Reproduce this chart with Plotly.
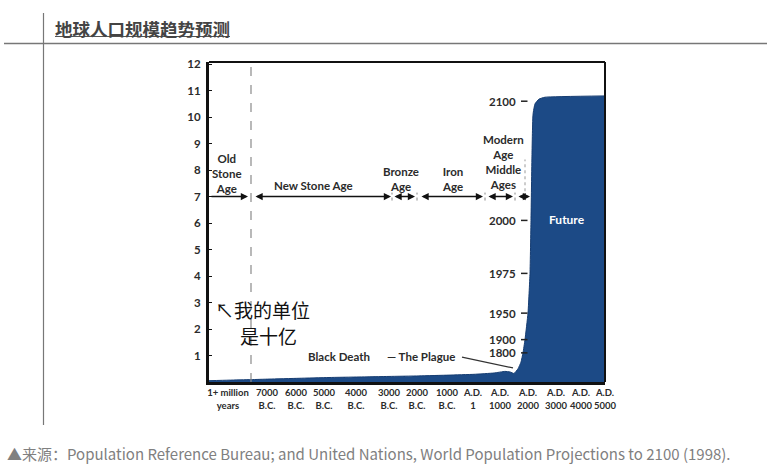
import plotly.graph_objects as go

# ---------------- data ----------------
# schematic timeline position (arbitrary units along the x axis) and world population (billions)
timeline_pos = [0, 20, 42, 60, 90, 120, 150, 180, 210, 240, 265, 285, 296, 301, 305, 309,
                312, 314, 316, 319, 321, 322, 323, 324, 326, 330, 336, 396]
population = [0.05, 0.07, 0.09, 0.11, 0.14, 0.17, 0.19, 0.21, 0.23, 0.26, 0.29, 0.34, 0.40, 0.38,
              0.32, 0.50, 0.75, 1.10, 1.60, 2.60, 4.10, 6.10, 8.60, 10.10, 10.50, 10.68, 10.75, 10.80]

tick_pos = [19, 58, 87, 115, 147, 180, 208, 238, 264, 291, 319, 347, 372, 396]
tick_text = ["1+ million<br>years", "7000<br>B.C.", "6000<br>B.C.", "5000<br>B.C.", "4000<br>B.C.",
             "3000<br>B.C.", "2000<br>B.C.", "1000<br>B.C.", "A.D.<br>1", "A.D.<br>1000",
             "A.D.<br>2000", "A.D.<br>3000", "A.D.<br>4000", "A.D.<br>5000"]
y_ticks = list(range(1, 13))

# milestone years on the curve: (label, population)
milestone_years = ["1800", "1900", "1950", "1975", "2000", "2100"]
milestone_pop = [1.1, 1.6, 2.6, 4.1, 6.1, 10.6]

# historical eras: label, start, end along timeline
era_labels = ["Old<br>Stone<br>Age", "New Stone Age", "Bronze<br>Age", "Iron<br>Age",
              "Modern<br>Age<br>Middle<br>Ages"]
era_start = [1, 45, 184, 211, 278]
era_end = [39, 182, 206, 274, 304]

title_text = "地球人口规模趋势预测"
source_text = "▲来源：Population Reference Bureau; and United Nations, World Population Projections to 2100 (1998)."

# ---------------- figure ----------------
NAVY = "#1c4a86"
TXT = "#2b2b2b"
FONT = "Lato"

fig = go.Figure()
fig.add_trace(go.Scatter(x=timeline_pos, y=population, mode="lines", fill="tozeroy",
                         line=dict(color="#163d72", width=1, shape="spline", smoothing=0.4),
                         fillcolor=NAVY, hoverinfo="skip", showlegend=False))

L, R, T, B = 209, 605, 62, 382
W, H = 772, 472


def px(xp):
    return (xp - L) / (R - L)


def py(yp):
    return (B - yp) / (B - T)


ann = []
shapes = []

# plot frame top / right
shapes.append(dict(type="line", xref="paper", yref="paper", x0=0, x1=1, y0=1, y1=1,
                   line=dict(color="#111", width=2)))
shapes.append(dict(type="line", xref="paper", yref="paper", x0=1, x1=1, y0=0, y1=1,
                   line=dict(color="#111", width=2)))
# dashed vertical separator
shapes.append(dict(type="line", xref="x", yref="paper", x0=42, x1=42, y0=0, y1=1,
                   line=dict(color="#8a8a8a", width=1.2, dash="dash")))
# small dotted separators between eras
for xs in [183, 208, 276, 306]:
    shapes.append(dict(type="line", xref="x", yref="y", x0=xs, x1=xs, y0=6.85, y1=7.15,
                       line=dict(color="#888", width=1, dash="dot")))
shapes.append(dict(type="line", xref="x", yref="y", x0=316, x1=316, y0=7.2, y1=8.4,
                   line=dict(color="#999", width=1, dash="dot")))

# era arrows
for i, (s, e) in enumerate(zip(era_start, era_end)):
    ann.append(dict(x=e, y=7, ax=s, ay=7, xref="x", yref="y", axref="x", ayref="y",
                    text="", showarrow=True, arrowhead=2, arrowsize=0.9, arrowwidth=1.6,
                    arrowcolor="#111", arrowside="end" if i == 0 else "end+start"))
# modern age arrow
ann.append(dict(x=321, y=7, ax=308, ay=7, xref="x", yref="y", axref="x", ayref="y",
                text="", showarrow=True, arrowhead=2, arrowsize=0.9, arrowwidth=1.6,
                arrowcolor="#111", arrowside="end+start"))

era_x = [18, 104, 192, 243, 294]
era_y = [7.86, 7.42, 7.67, 7.68, 8.3]
for lab, xx, yy in zip(era_labels, era_x, era_y):
    ann.append(dict(x=xx, y=yy, xref="x", yref="y", text="<b>%s</b>" % lab, showarrow=False,
                    font=dict(family=FONT, size=11.5, color=TXT), xanchor="center", yanchor="middle"))

# milestone years with dashes
for yr, pv in zip(milestone_years, milestone_pop):
    ann.append(dict(x=309, y=pv, xref="x", yref="y", text="<b>%s</b>" % yr, showarrow=False,
                    font=dict(family=FONT, size=11.5, color=TXT), xanchor="right", yanchor="middle"))
    shapes.append(dict(type="line", xref="x", yref="y", x0=312, x1=318.5, y0=pv, y1=pv,
                       line=dict(color="#222", width=1.5)))

ann.append(dict(x=358, y=6.15, xref="x", yref="y", text="<b>Future</b>", showarrow=False,
                font=dict(family=FONT, size=12, color="white")))
ann.append(dict(x=130, y=0.95, xref="x", yref="y", text="<b>Black Death</b>", showarrow=False,
                font=dict(family=FONT, size=11.5, color=TXT)))
ann.append(dict(x=176, y=0.95, xref="x", yref="y", text="<b>— The Plague</b>", showarrow=False,
                font=dict(family=FONT, size=11.5, color=TXT), xanchor="left"))
shapes.append(dict(type="line", xref="x", yref="y", x0=253, x1=304, y0=0.94, y1=0.53,
                   line=dict(color="#333", width=1.2)))

# handwritten note
ann.append(dict(x=px(213), y=py(325), xref="paper", yref="paper", text="↖我的单位", showarrow=False,
                font=dict(family="Noto Sans CJK SC", size=19, color="#111"), xanchor="left"))
ann.append(dict(x=px(238), y=py(351), xref="paper", yref="paper", text="是十亿", showarrow=False,
                font=dict(family="Noto Sans CJK SC", size=19, color="#111"), xanchor="left"))

# page header / footer
ann.append(dict(x=px(53), y=py(28), xref="paper", yref="paper", text="<b>%s</b>" % title_text,
                showarrow=False, xanchor="left", yanchor="middle",
                font=dict(family="Noto Sans CJK SC", size=17.5, color="#444")))
shapes.append(dict(type="line", xref="paper", yref="paper", x0=px(55), x1=px(230), y0=py(36.5), y1=py(36.5),
                   line=dict(color="#555", width=1)))
shapes.append(dict(type="line", xref="paper", yref="paper", x0=px(4), x1=px(767), y0=py(43.5), y1=py(43.5),
                   line=dict(color="#777", width=1.5)))
shapes.append(dict(type="line", xref="paper", yref="paper", x0=px(43.5), x1=px(43.5), y0=py(13), y1=py(425),
                   line=dict(color="#777", width=1.2)))
ann.append(dict(x=px(5), y=py(453), xref="paper", yref="paper", text=source_text, showarrow=False,
                xanchor="left", yanchor="middle",
                font=dict(family="Noto Sans CJK SC", size=15, color="#808080")))

fig.update_layout(
    width=W, height=H, margin=dict(l=L, r=W - R, t=T, b=H - B, autoexpand=False),
    paper_bgcolor="white", plot_bgcolor="white",
    annotations=ann, shapes=shapes, showlegend=False,
    xaxis=dict(range=[0, 396], tickvals=tick_pos, ticktext=tick_text, showgrid=False, zeroline=False,
               showline=True, linewidth=3, linecolor="#111", ticks="", tickangle=0, automargin=False,
               tickfont=dict(family=FONT, size=9.5, color=TXT, weight="bold")),
    yaxis=dict(range=[0, 12.08], tickvals=y_ticks, showgrid=False, zeroline=False, automargin=False,
               showline=True, linewidth=3, linecolor="#111", ticks="inside", ticklen=3,
               tickcolor="#111", ticklabelstandoff=3,
               tickfont=dict(family=FONT, size=11.5, color=TXT, weight="bold")),
)

fig.write_html("out.html", config={"displayModeBar": False},
               post_script="document.body.style.margin='0';")
